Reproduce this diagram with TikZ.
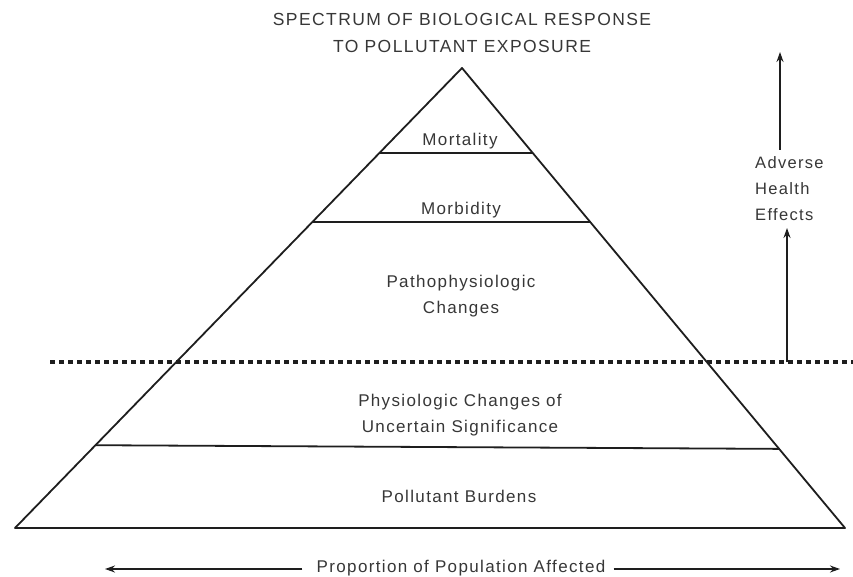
\documentclass[tikz,border=0pt]{standalone}
\usepackage{fontspec}
\setmainfont{Liberation Sans}[LetterSpace=8]
\usetikzlibrary{arrows.meta,calc}
\definecolor{txt}{RGB}{55,55,55}
\definecolor{ink}{RGB}{30,30,30}
\tikzset{
  lbl/.style={text=txt,font=\fontsize{17}{26}\selectfont,align=center,inner sep=0pt},
  ttl/.style={text=txt,font=\fontsize{17.5}{27}\selectfont,align=center,inner sep=0pt},
  side/.style={text=txt,font=\fontsize{16.5}{26}\selectfont,align=left,inner sep=0pt},
  edge/.style={draw=ink,line width=1.8pt,line join=round},
  tier/.style={draw=ink,line width=1.8pt},
  dotline/.style={draw=ink,line width=3.5pt,dash pattern=on 5pt off 4pt},
  arr/.style={draw=ink,line width=1.8pt,-{Stealth[length=10pt,width=7pt]}},
  arrthin/.style={draw=ink,line width=1.4pt,-{Stealth[length=10pt,width=7pt]}}
}
\begin{document}
\begin{tikzpicture}[x=1pt,y=-1pt]
\useasboundingbox[fill=white] (0,0) rectangle (853,577);
% pyramid corners
\coordinate (apex) at (462,68);
\coordinate (bl) at (15,528);
\coordinate (br) at (845,528);
\draw[edge] (bl) -- (apex) -- (br) -- cycle;
% tier lines
\coordinate (m1l) at ($(apex)!0.185!(bl)$);
\coordinate (m1r) at ($(apex)!0.185!(br)$);
\coordinate (m2l) at ($(apex)!0.335!(bl)$);
\coordinate (m2r) at ($(apex)!0.335!(br)$);
\coordinate (m3l) at ($(apex)!0.820!(bl)$);
\coordinate (m3r) at ($(apex)!0.828!(br)$);
\draw[tier] (m1l) -- (m1r);
\draw[tier] (m2l) -- (m2r);
\draw[tier] (m3l) -- (m3r);
% dotted threshold
\coordinate (dl) at (50,362);
\coordinate (dr) at (853,362);
\draw[dotline] (dl) -- (dr);
% title
\node[ttl] (title) at (462,33) {SPECTRUM OF BIOLOGICAL RESPONSE\\TO POLLUTANT EXPOSURE};
% labels
\node[lbl] (mort) at (460,141) {Mortality};
\node[lbl] (morb) at (461,210) {Morbidity};
\node[lbl] (patho) at (461,296) {Pathophysiologic\\Changes};
\node[lbl] (phys) at (460,415) {Physiologic Changes of\\Uncertain Significance};
\node[lbl] (burd) at (459,496) {Pollutant Burdens};
% adverse health effects
\node[side,anchor=west] (ahe) at (755,189) {Adverse\\Health\\Effects};
\coordinate (a1) at (787,362);
\coordinate (a1t) at (787,228);
\draw[arr] (a1) -- (a1t);
\coordinate (a2) at (780,150);
\coordinate (a2t) at (780,52);
\draw[arrthin] (a2) -- (a2t);
% proportion axis
\node[lbl] (prop) at (461,568) {Proportion of Population Affected};
\coordinate (pl) at (105,569);
\coordinate (pr) at (840,569);
\draw[arrthin] ([xshift=-14pt]prop.west |- pl) -- (pl);
\draw[arrthin] ([xshift=8pt]prop.east |- pr) -- (pr);
\end{tikzpicture}
\end{document}
